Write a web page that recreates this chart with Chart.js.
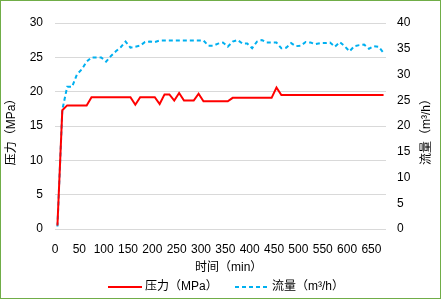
<!DOCTYPE html>
<html><head><meta charset="utf-8">
<script src="https://cdn.jsdelivr.net/npm/chart.js@4"></script>
<style>html,body{margin:0;padding:0;background:#fff}canvas{display:block}</style>
</head><body>
<canvas id="c" width="441" height="299"></canvas>
<script>
const timeMin = [5,15,25,35,45,55,65,75,85,95,105,115,125,135,145,155,165,175,185,195,205,215,225,235,245,255,265,275,285,295,305,315,325,335,345,355,365,375,385,395,405,415,425,435,445,455,465,475,485,495,505,515,525,535,545,555,565,575,585,595,605,615,625,635,645,655,665,675];
const pressure = [0.5,17.3,18.0,18.0,18.0,18.0,18.0,19.2,19.2,19.2,19.2,19.2,19.2,19.2,19.2,19.2,18.1,19.2,19.2,19.2,19.2,18.2,19.6,19.6,18.7,19.8,18.7,18.7,18.7,19.7,18.6,18.6,18.6,18.6,18.6,18.6,19.1,19.1,19.1,19.1,19.1,19.1,19.1,19.1,19.1,20.6,19.5,19.5,19.5,19.5,19.5,19.5,19.5,19.5,19.5,19.5,19.5,19.5,19.5,19.5,19.5,19.5,19.5,19.5,19.5,19.5,19.5,19.5];
const flow = [0.5,23.1,27.6,27.6,30.0,31.0,32.5,33.3,33.3,33.3,32.5,33.6,34.5,35.3,36.4,35.2,35.4,35.6,36.3,36.4,36.3,36.6,36.6,36.6,36.6,36.6,36.6,36.6,36.6,36.6,36.6,35.6,35.6,36.0,36.2,35.4,36.4,36.7,36.0,36.0,35.1,36.4,36.7,36.2,36.2,36.2,35.1,35.2,36.1,35.5,35.6,36.3,36.2,35.9,36.1,36.1,36.2,35.4,36.3,35.5,34.5,35.5,35.7,35.8,35.0,35.5,35.4,34.2];
const xTicks = [0,50,100,150,200,250,300,350,400,450,500,550,600,650];
const seriesNames = ['压力（MPa）','流量（m³/h）'];
const xTitle = '时间（min）';

const latin = '"Liberation Sans", Arial, sans-serif';
const cjk = '"Liberation Sans", "Noto Sans CJK SC", sans-serif';
const RED = '#ff0000', BLUE = '#00b0f0';

const deco = {
  id: 'deco',
  beforeDraw(chart) {
    const ctx = chart.ctx;
    ctx.save(); ctx.fillStyle = '#fff'; ctx.fillRect(0,0,chart.width,chart.height); ctx.restore();
  },
  afterDraw(chart) {
    const ctx = chart.ctx, a = chart.chartArea;
    ctx.save();
    ctx.fillStyle = '#000';
    ctx.font = '12px ' + cjk;
    ctx.textBaseline = 'middle';
    const cy = (a.top + a.bottom) / 2 + 3;
    ctx.save(); ctx.translate(12, cy); ctx.rotate(-Math.PI/2); ctx.textAlign='center'; ctx.fillText(seriesNames[0],0,0); ctx.restore();
    ctx.save(); ctx.translate(427, cy); ctx.rotate(-Math.PI/2); ctx.textAlign='center'; ctx.fillText(seriesNames[1],0,0); ctx.restore();
    ctx.textAlign = 'left';
    ctx.fillText(xTitle, 195, 268);
    const ly = 287;
    ctx.lineWidth = 2;
    ctx.strokeStyle = RED; ctx.setLineDash([]);
    ctx.beginPath(); ctx.moveTo(108, ly); ctx.lineTo(142, ly); ctx.stroke();
    ctx.fillText(seriesNames[0], 145, ly);
    ctx.strokeStyle = BLUE; ctx.setLineDash([4,3]);
    ctx.beginPath(); ctx.moveTo(235, ly); ctx.lineTo(270, ly); ctx.stroke();
    ctx.setLineDash([]);
    ctx.fillText(seriesNames[1], 272, ly);
    ctx.strokeStyle = '#70ad47'; ctx.lineWidth = 1;
    ctx.strokeRect(0.5, 0.5, chart.width-1, chart.height-1);
    ctx.restore();
  }
};

new Chart(document.getElementById('c'), {
  type: 'line',
  data: {
    datasets: [
      { label: seriesNames[0], data: timeMin.map((t,i)=>({x:t,y:pressure[i]})), yAxisID:'y',
        borderColor: RED, backgroundColor: RED, borderWidth: 2, pointRadius: 0, tension: 0 },
      { label: seriesNames[1], data: timeMin.map((t,i)=>({x:t,y:flow[i]})), yAxisID:'y1',
        borderColor: BLUE, backgroundColor: BLUE, borderWidth: 2, borderDash:[4,3], pointRadius: 0, tension: 0 }
    ]
  },
  options: {
    responsive: false, animation: false, devicePixelRatio: 1,
    layout: { padding: { top: 23, left: 0, right: 0, bottom: 0 } },
    plugins: { legend: { display: false }, tooltip: { enabled: false } },
    scales: {
      x: { type: 'linear', position: 'bottom', min: 0, max: 680,
        grid: { display: false, drawTicks: false }, border: { display: false },
        ticks: { autoSkip: false, maxRotation: 0, padding: 13, color: '#000', font: { size: 12, family: latin } },
        afterBuildTicks: s => { s.ticks = xTicks.map(v => ({ value: v })); },
        afterFit: s => { s.height = 70; } },
      y: { position: 'left', min: 0, max: 30,
        grid: { color: '#d9d9d9', lineWidth: 1, drawTicks: false }, border: { display: false },
        ticks: { stepSize: 5, padding: 12, color: '#000', font: { size: 12, family: latin } },
        afterFit: s => { s.width = 55; } },
      y1: { position: 'right', min: 0, max: 40,
        grid: { display: false, drawTicks: false }, border: { display: false },
        ticks: { stepSize: 5, padding: 11, color: '#000', font: { size: 12, family: latin } },
        afterFit: s => { s.width = 55; } }
    }
  },
  plugins: [deco]
});
</script>
</body></html>
